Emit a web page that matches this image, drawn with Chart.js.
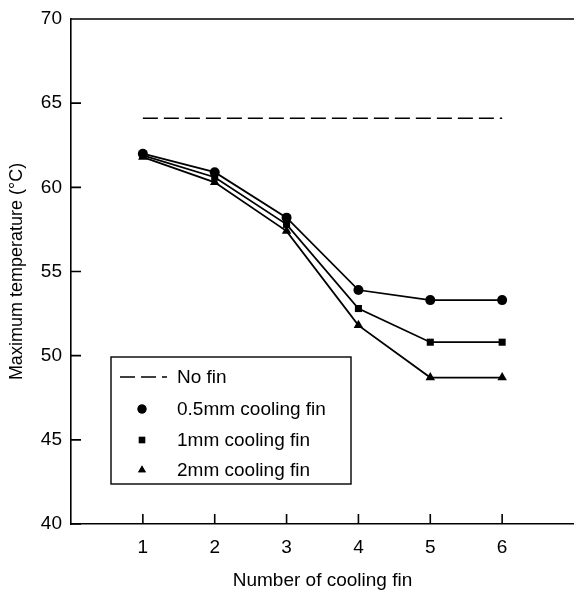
<!DOCTYPE html>
<html>
<head>
<meta charset="utf-8">
<script src="https://cdn.jsdelivr.net/npm/chart.js@4.4.1/dist/chart.umd.min.js"></script>
<style>
  html, body { margin: 0; padding: 0; background: #fff; overflow: hidden; }
  #wrap { width: 574px; height: 592px; position: relative; }
</style>
</head>
<body>
<div id="wrap"><canvas id="fin-chart"></canvas></div>
<script>
const finCounts = [1, 2, 3, 4, 5, 6];
const noFin = [64.1, 64.1, 64.1, 64.1, 64.1, 64.1];
const fin05 = [62.0, 60.9, 58.2, 53.9, 53.3, 53.3];
const fin1 = [61.9, 60.6, 57.8, 52.8, 50.8, 50.8];
const fin2 = [61.8, 60.3, 57.4, 51.8, 48.7, 48.7];
const yTicks = [40, 45, 50, 55, 60, 65, 70];
const seriesNames = ['No fin', '0.5mm cooling fin', '1mm cooling fin', '2mm cooling fin'];

const FONT = 'Arial, "Liberation Sans", Helvetica, sans-serif';
const toPoints = vals => vals.map((v, i) => ({ x: finCounts[i], y: v }));

// frame top line, inward ticks and the boxed legend
const framePlugin = {
    id: 'frame',
    afterDraw(chart) {
        const { ctx, chartArea: a, scales } = chart;
        ctx.save();
        ctx.strokeStyle = '#000';
        ctx.lineWidth = 1.6;
        ctx.beginPath();
        ctx.moveTo(a.left, a.top);
        ctx.lineTo(a.right, a.top);
        // x ticks pointing up
        finCounts.forEach(v => {
            const px = scales.x.getPixelForValue(v);
            ctx.moveTo(px, a.bottom);
            ctx.lineTo(px, a.bottom - 10);
        });
        // y ticks pointing right
        yTicks.forEach(v => {
            const py = scales.y.getPixelForValue(v);
            ctx.moveTo(a.left, py);
            ctx.lineTo(a.left + 10, py);
        });
        ctx.stroke();

        // legend box
        const bx = 111, by = 357, bw = 240, bh = 127;
        ctx.lineWidth = 1.4;
        ctx.strokeRect(bx, by, bw, bh);
        const rows = [377, 409, 440, 470];
        ctx.font = '19px ' + FONT;
        ctx.fillStyle = '#000';
        ctx.textBaseline = 'middle';
        seriesNames.forEach((name, i) => {
            const y = rows[i];
            if (i === 0) {
                ctx.setLineDash([15, 6]);
                ctx.lineWidth = 1.4;
                ctx.beginPath();
                ctx.moveTo(120, y);
                ctx.lineTo(167, y);
                ctx.stroke();
                ctx.setLineDash([]);
            } else {
                const style = ['circle', 'rect', 'triangle'][i - 1];
                Chart.helpers.drawPoint(ctx, { pointStyle: style, radius: 4.5, borderWidth: 0 }, 142, y);
                ctx.fill();
            }
            ctx.fillText(name, 177, y + 1);
        });
        ctx.restore();
    }
};

const mark = (label, data, style, r) => ({
    label: label,
    data: toPoints(data),
    borderColor: '#000',
    backgroundColor: '#000',
    borderWidth: 1.8,
    pointStyle: style,
    pointRadius: r,
    pointBorderWidth: 0,
    tension: 0
});

const ctx = document.getElementById('fin-chart').getContext('2d');
new Chart(ctx, {
    type: 'line',
    data: {
        datasets: [
            {
                label: seriesNames[0],
                data: toPoints(noFin),
                borderColor: '#000',
                borderWidth: 1.4,
                borderDash: [15, 6],
                pointRadius: 0
            },
            mark(seriesNames[1], fin05, 'circle', 5),
            mark(seriesNames[2], fin1, 'rect', 5),
            mark(seriesNames[3], fin2, 'triangle', 5.5)
        ]
    },
    options: {
        responsive: true,
        maintainAspectRatio: false,
        animation: false,
        layout: { autoPadding: false, padding: { top: 19, right: 0, left: 0, bottom: 0 } },
        plugins: {
            legend: { display: false },
            tooltip: { enabled: false }
        },
        scales: {
            x: {
                type: 'linear',
                min: 0,
                max: 7,
                grid: { display: false, drawTicks: false },
                border: { display: true, color: '#000', width: 1.6 },
                ticks: {
                    stepSize: 1,
                    color: '#000',
                    padding: 12,
                    font: { family: FONT, size: 19 },
                    callback: v => (finCounts.includes(v) ? String(v) : '')
                },
                title: {
                    display: true,
                    text: 'Number of cooling fin',
                    color: '#000',
                    font: { family: FONT, size: 19 },
                    padding: { top: 12, bottom: 0 }
                },
                afterFit: s => { s.height = 68; s.paddingLeft = 0; s.paddingRight = 0; }
            },
            y: {
                min: 40,
                max: 70,
                grid: { display: false, drawTicks: false },
                border: { display: true, color: '#000', width: 1.6 },
                ticks: {
                    stepSize: 5,
                    color: '#000',
                    padding: 9,
                    font: { family: FONT, size: 19 }
                },
                title: {
                    display: true,
                    text: 'Maximum temperature (°C)',
                    color: '#000',
                    font: { family: FONT, size: 18 },
                    padding: { top: 6, bottom: 4 }
                },
                afterFit: s => { s.width = 71; s.paddingTop = 0; s.paddingBottom = 0; }
            }
        }
    },
    plugins: [framePlugin]
});
</script>
</body>
</html>
